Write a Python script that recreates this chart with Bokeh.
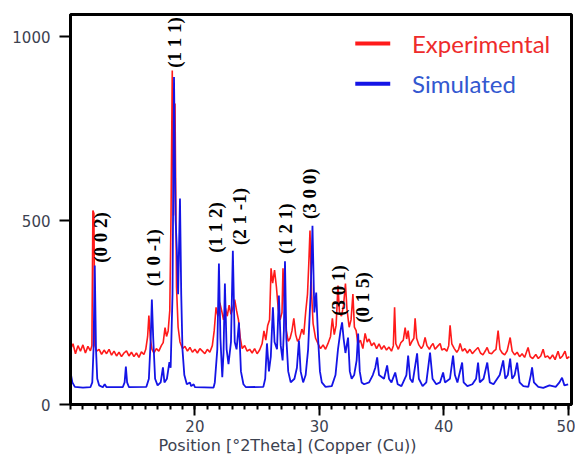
from math import pi
from bokeh.plotting import figure
from bokeh.models import Label, FixedTicker, Range1d, Title
from bokeh.embed import file_html
from bokeh.resources import INLINE

# ---------------- data ----------------
exp_theta = [10.0, 10.2, 10.4, 10.6, 10.8, 11.0, 11.2, 11.4, 11.6, 11.72, 11.8, 11.88, 11.96, 12.1, 12.3,
             12.5, 12.7, 12.9, 13.1, 13.3, 13.5, 13.7, 13.9, 14.1, 14.3, 14.5, 14.7, 14.9, 15.1, 15.3,
             15.5, 15.7, 15.9, 16.05, 16.2, 16.3, 16.42, 16.55, 16.7, 16.9, 17.1, 17.3, 17.45, 17.6, 17.72,
             17.85, 17.98, 18.08, 18.18, 18.28, 18.4, 18.52, 18.65, 18.8, 19.0, 19.2, 19.4, 19.6, 19.8, 20.0,
             20.2, 20.4, 20.6, 20.8, 21.0, 21.2, 21.4, 21.55, 21.7, 21.85, 22.0, 22.15, 22.3, 22.45, 22.6,
             22.75, 22.9, 23.05, 23.2, 23.35, 23.5, 23.65, 23.8, 24.0, 24.2, 24.4, 24.6, 24.8, 25.0, 25.2,
             25.4, 25.55, 25.7, 25.85, 26.0, 26.12, 26.25, 26.4, 26.55, 26.7, 26.85, 27.0, 27.08, 27.18, 27.35,
             27.5, 27.65, 27.8, 27.95, 28.1, 28.25, 28.4, 28.6, 28.75, 28.9, 29.05, 29.15, 29.25, 29.38, 29.5,
             29.7, 29.9, 30.1, 30.3, 30.5, 30.7, 30.9, 31.05, 31.2, 31.35, 31.5, 31.62, 31.78, 31.95, 32.1,
             32.22, 32.4, 32.55, 32.7, 32.82, 32.96, 33.1, 33.3, 33.5, 33.68, 33.85, 34.0, 34.2, 34.4, 34.6,
             34.8, 35.0, 35.2, 35.4, 35.6, 35.8, 35.95, 36.05, 36.15, 36.35, 36.55, 36.75, 36.9, 37.02, 37.14,
             37.28, 37.45, 37.6, 37.7, 37.82, 38.0, 38.2, 38.35, 38.5, 38.65, 38.85, 39.0, 39.14, 39.3, 39.5,
             39.71, 39.85, 40.05, 40.25, 40.4, 40.51, 40.65, 40.85, 41.05, 41.2, 41.32, 41.5, 41.7, 41.9, 42.1,
             42.3, 42.5, 42.76, 42.95, 43.15, 43.35, 43.49, 43.65, 43.85, 44.05, 44.2, 44.37, 44.52, 44.7, 44.9,
             45.1, 45.34, 45.5, 45.7, 45.9, 46.1, 46.3, 46.5, 46.78, 46.95, 47.15, 47.4, 47.6, 47.8, 47.99,
             48.15, 48.35, 48.55, 48.75, 48.95, 49.19, 49.35, 49.55, 49.75, 49.9, 50.1]
exp_counts = [150, 165, 138, 160, 145, 162, 140, 158, 146, 160, 527, 520, 160, 145, 150,
              136, 148, 138, 150, 134, 145, 132, 142, 130, 140, 146, 132, 142, 130, 140,
              128, 143, 136, 150, 185, 242, 178, 150, 140, 152, 145, 160, 168, 209, 185,
              200, 255, 514, 908, 514, 818, 320, 210, 170, 152, 158, 145, 155, 142, 150,
              140, 152, 145, 138, 150, 142, 160, 200, 264, 240, 277, 255, 230, 262, 240,
              270, 245, 262, 285, 255, 230, 180, 152, 160, 145, 150, 140, 152, 138, 148,
              165, 200, 175, 215, 230, 370, 330, 365, 320, 260, 230, 250, 370, 280, 200,
              172, 180, 200, 234, 190, 172, 178, 205, 190, 250, 300, 380, 473, 300, 220,
              180, 165, 152, 162, 150, 166, 185, 234, 190, 215, 323, 250, 240, 270, 329,
              260, 210, 230, 300, 210, 201, 165, 175, 152, 193, 170, 178, 160, 168, 152,
              165, 150, 160, 148, 156, 145, 160, 264, 165, 150, 168, 175, 209, 178, 201,
              160, 172, 180, 234, 180, 162, 152, 160, 182, 160, 150, 160, 166, 150, 158,
              166, 148, 152, 145, 160, 215, 165, 152, 142, 150, 166, 145, 152, 140, 150,
              138, 146, 155, 140, 135, 146, 155, 140, 138, 146, 150, 201, 150, 140, 135,
              146, 182, 145, 135, 142, 130, 138, 128, 155, 130, 125, 136, 125, 132, 150,
              128, 132, 124, 135, 122, 145, 125, 132, 145, 125, 130]

sim_theta = [10.0, 10.15, 10.35, 11.0, 11.6, 11.75, 11.85, 11.95, 12.05, 12.15, 12.3, 12.6, 12.75, 12.9,
             14.2, 14.35, 14.45, 14.55, 14.7, 16.1, 16.3, 16.45, 16.54, 16.65, 16.8, 17.0, 17.25, 17.43,
             17.55, 17.75, 17.95, 18.05, 18.2, 18.32, 18.45, 18.55, 18.65, 18.8, 18.9, 19.0, 19.15, 19.35,
             19.6, 19.7, 19.9, 20.0, 21.5, 21.6, 21.8, 21.93, 22.05, 22.2, 22.3, 22.41, 22.55, 22.7, 22.9,
             23.05, 23.2, 23.35, 23.54, 23.7, 23.9, 24.1, 25.5, 25.65, 25.79, 25.95, 26.1, 26.27, 26.4,
             26.6, 26.75, 26.9, 27.05, 27.15, 27.24, 27.35, 27.5, 27.7, 28.0, 28.2, 28.36, 28.5, 28.7,
             28.9, 29.1, 29.3, 29.45, 29.6, 29.75, 29.9, 30.05, 30.2, 30.5, 31.0, 31.3, 31.5, 31.7, 31.83,
             31.95, 32.1, 32.31, 32.45, 32.6, 32.8, 33.0, 33.12, 33.25, 33.4, 33.6, 34.0, 34.3, 34.5, 34.65,
             34.8, 35.2, 35.45, 35.6, 35.8, 36.1, 36.3, 36.6, 37.0, 37.14, 37.3, 37.5, 37.86, 38.0, 38.3,
             38.6, 38.9, 39.1, 39.4, 39.7, 39.95, 40.1, 40.5, 40.75, 40.9, 41.1, 41.48, 41.6, 41.9, 42.3,
             42.6, 42.76, 42.9, 43.2, 43.5, 43.7, 44.0, 44.5, 44.78, 44.95, 45.15, 45.34, 45.5, 45.7, 45.9,
             46.1, 46.4, 46.8, 47.0, 47.1, 47.25, 47.6, 48.0, 48.5, 49.0, 49.3, 49.51, 49.7, 50.0]
sim_counts = [88, 60, 48, 46, 47, 60, 150, 378, 150, 70, 52, 47, 55, 47,
              47, 60, 103, 60, 47, 48, 70, 180, 285, 180, 70, 52, 60, 101,
              60, 70, 115, 100, 300, 890, 500, 420, 300, 560, 300, 150, 80, 55,
              60, 50, 55, 47, 46, 60, 150, 383, 180, 74, 140, 329, 150, 110, 170,
              418, 170, 150, 223, 90, 55, 47, 48, 70, 166, 90, 130, 264, 170,
              150, 296, 160, 120, 200, 389, 180, 90, 60, 70, 100, 174, 90, 60,
              80, 150, 300, 486, 250, 304, 180, 90, 60, 48, 50, 80, 150, 200, 223,
              180, 140, 182, 90, 70, 80, 120, 193, 90, 60, 55, 60, 80, 100, 128,
              80, 70, 106, 70, 60, 87, 55, 50, 80, 133, 70, 60, 139, 70, 50,
              60, 141, 70, 55, 60, 87, 60, 70, 133, 80, 60, 114, 60, 50, 55,
              70, 114, 60, 70, 114, 60, 55, 80, 120, 70, 80, 125, 70, 80, 114,
              60, 50, 48, 80, 101, 60, 48, 45, 52, 48, 60, 73, 52, 55]

hkl_labels = ["(0 0 2)", "(1 0 -1)", "(1 1 1)", "(1 1 2)", "(2 1 -1)", "(1 2 1)", "(3 0 0)", "(3 0 1)", "(0 1 5)"]
series_names = ["Experimental", "Simulated"]
x_major_ticks = [20, 30, 40, 50]
x_minor_ticks = list(range(10, 51))
y_major_ticks = [0, 500, 1000]
x_title = "Position [\u00b02Theta] (Copper (Cu))"

# annotation placement (centre of each rotated label)
hkl_pos_x = [12.44, 16.70, 18.39, 21.69, 23.62, 27.32, 29.25, 31.51, 33.44]
hkl_pos_y = [454, 399, 984, 481, 511, 478, 573, 310, 291]

RED = "#ff1a1a"
BLUE = "#1414e6"

p = figure(width=575, height=454,
           x_range=Range1d(10, 50.27), y_range=Range1d(0, 1060),
           output_backend="svg", toolbar_location=None,
           min_border_left=70, min_border_right=4, min_border_top=14, min_border_bottom=50)

p.line(exp_theta, exp_counts, line_color=RED, line_width=1.6)
p.line(sim_theta, sim_counts, line_color=BLUE, line_width=1.8)

p.xgrid.visible = False
p.ygrid.visible = False
p.background_fill_color = "white"
p.border_fill_color = "white"
p.outline_line_color = "black"
p.outline_line_width = 3
p.outline_line_alpha = 1

p.xaxis.ticker = FixedTicker(ticks=x_major_ticks, minor_ticks=x_minor_ticks)
p.yaxis.ticker = FixedTicker(ticks=y_major_ticks, minor_ticks=[])

for ax in (p.xaxis, p.yaxis):
    ax.axis_line_color = "black"
    ax.axis_line_width = 3
    ax.major_tick_line_color = "black"
    ax.major_tick_line_width = 2
    ax.major_tick_in = 0
    ax.minor_tick_line_color = "black"
    ax.minor_tick_line_width = 2
    ax.minor_tick_in = 0
    ax.major_label_text_font = "DejaVu Sans"
    ax.major_label_text_font_size = "15px"
    ax.major_label_text_color = "#3c4250"

p.xaxis.major_tick_out = 11
p.xaxis.minor_tick_out = 5
p.xaxis.major_label_standoff = 4
p.yaxis.major_tick_out = 11
p.yaxis.minor_tick_out = 0
p.yaxis.major_label_standoff = 9

# x-axis title (placed left of centre, as in the original)
p.add_layout(Title(text=x_title, align="left", offset=88, standoff=-2,
                   text_font="DejaVu Sans", text_font_size="16px", text_font_style="normal",
                   text_color="#3c4250"), "below")

# peak (hkl) labels
for t, xx, yy in zip(hkl_labels, hkl_pos_x, hkl_pos_y):
    p.add_layout(Label(x=xx, y=yy, text=t, angle=pi / 2, text_font="Liberation Serif",
                       text_font_style="bold", text_font_size="19px", text_color="black",
                       text_align="center", text_baseline="middle"))

# legend (drawn by hand so each label has its own colour)
p.segment(x0=[32.89, 32.89], y0=[981, 872], x1=[35.7, 35.7], y1=[981, 872],
          line_color=[RED, BLUE], line_width=4)
p.add_layout(Label(x=37.45, y=981, text=series_names[0], text_font="Lato", text_font_size="24px",
                   text_color="#ee2b2b", text_align="left", text_baseline="middle"))
p.add_layout(Label(x=37.45, y=872, text=series_names[1], text_font="Lato", text_font_size="24px",
                   text_color="#3358d0", text_align="left", text_baseline="middle"))

open("out.html", "w").write(file_html(p, INLINE))
